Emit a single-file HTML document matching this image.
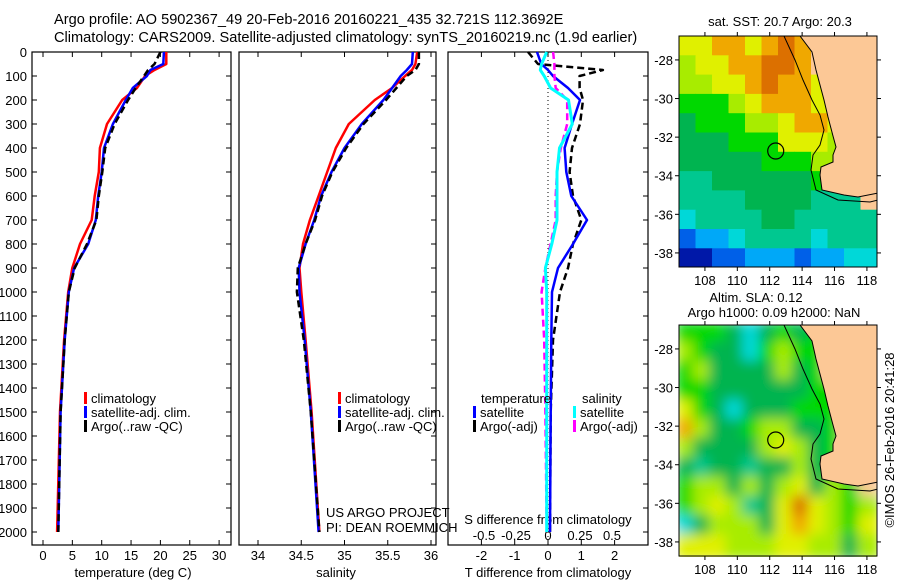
<!DOCTYPE html>
<html><head><meta charset="utf-8"><style>
html,body{margin:0;padding:0;background:#fff;}
svg{display:block;font-family:"Liberation Sans",sans-serif;}
text{fill:#000;}
</style></head><body>
<svg id="c" width="900" height="580" viewBox="0 0 900 580">
<defs><filter id="blur2"><feGaussianBlur stdDeviation="6"/></filter>
<clipPath id="clipm1"><rect x="679" y="36" width="198" height="231"/></clipPath>
<clipPath id="clipm2"><rect x="679" y="325" width="198" height="232"/></clipPath>
</defs>
<text x="54" y="24" font-size="14.6">Argo profile: AO 5902367_49 20-Feb-2016 20160221_435 32.721S 112.3692E</text>
<text x="54" y="42" font-size="14.6">Climatology: CARS2009. Satellite-adjusted climatology: synTS_20160219.nc (1.9d earlier)</text>
<g id="g"></g>
</svg>
<script>
// depth levels (m)
const depths=[0,50,75,100,150,200,300,400,500,600,700,800,900,1000,1200,1500,2000];
// temperature (deg C)
const tempClim=[21.0,21.0,19.0,17.4,16.0,13.5,10.9,9.7,9.5,8.8,8.3,6.3,5.0,4.3,3.6,2.9,2.4];
const tempSat=[20.6,20.5,18.3,17.7,15.3,14.1,11.9,10.4,10.0,9.4,9.0,7.7,5.3,4.4,3.7,3.0,2.6];
const tempArgo=[20.0,19.0,17.9,17.2,15.8,14.5,12.2,10.6,10.1,9.5,9.1,7.5,5.4,4.4,3.7,3.0,2.6];
// salinity
const salClim=[35.84,35.82,35.78,35.7,35.55,35.35,35.05,34.9,34.8,34.7,34.6,34.52,34.48,34.5,34.55,34.62,34.71];
const salSat=[35.79,35.78,35.72,35.65,35.55,35.45,35.2,35.0,34.85,34.73,34.65,34.55,34.47,34.48,34.54,34.61,34.70];
const salArgo=[35.86,35.86,35.82,35.72,35.6,35.48,35.22,35.02,34.86,34.74,34.66,34.55,34.46,34.45,34.53,34.61,34.71];
// differences from climatology
const dTsat=[-0.33,-0.2,0.0,0.15,0.6,0.96,0.72,0.5,0.55,0.7,1.17,0.75,0.3,0.12,0.1,0.08,0.06];
const dTargo=[-0.6,-0.3,1.65,0.95,0.95,1.05,0.96,0.72,0.65,0.75,1.0,0.75,0.6,0.36,0.15,0.08,0.06];
const dSsat=[-0.01,-0.05,-0.06,-0.03,0.02,0.16,0.19,0.09,0.07,0.07,0.07,0.03,-0.02,-0.01,-0.01,-0.01,-0.01];
const dSargo=[0.04,0.05,0.05,0.05,0.06,0.15,0.15,0.1,0.07,0.06,0.06,0.02,-0.02,-0.05,-0.03,-0.02,-0.01];
// tick labels
const depthTicks=[0,100,200,300,400,500,600,700,800,900,1000,1100,1200,1300,1400,1500,1600,1700,1800,1900,2000];
const tempTicks=[0,5,10,15,20,25,30];
const salTicks=[34,34.5,35,35.5,36];
const dTTicks=[-2,-1,0,1,2];
const dSTicks=[-0.5,-0.25,0,0.25,0.5];
const latTicks=[-28,-30,-32,-34,-36,-38];
const lonTicks=[108,110,112,114,116,118];
// map grids (palette codes, rows north->south, 1 deg cells)
const sstGrid=["yyooyoOoLLLL","lyyooOOoLLLL","llyyoOooyLLL","ggglyoooyLLL","GgggllyooylL","GGGgggyyylLL","GGGGGgggllLL","ttGGGGGGgtLL","ttttGGGGtttL","cttttGGttttt","Bbbcttttcttt","NNBBbbbBbbcc"];
const slaGrid=["gggGcGgGgLLL","lgGGcglggLLL","glGGGGlGgLLL","ggGGGGGGggLL","ygGcGGGgggLL","olGGgllGGgLL","lGGGGlylGgLL","GtGGtGGlGgLL","gllGlGlyGlgL","glyltGyOylgl","cGlllGyoylgy","yyylllyyllGl"];
const pal={O:"#dc7000",o:"#f0a800",y:"#e0f000",l:"#a8ec00",g:"#00d800",G:"#00b450",t:"#00c890",c:"#00d8d8",b:"#00a8f8",B:"#0060e8",N:"#0018a8",L:"#fcc896"};

const NS="http://www.w3.org/2000/svg";
const G=document.getElementById('g');
function el(tag,attrs,parent){const e=document.createElementNS(NS,tag);for(const k in attrs)e.setAttribute(k,attrs[k]);(parent||G).appendChild(e);return e;}
function txt(x,y,s,size,anchor,parent){const t=el('text',{x:x,y:y,'font-size':size||13,'text-anchor':anchor||'middle'},parent);t.textContent=s;return t;}

const TOP=52,BOT=545;
const yD=d=>TOP+d*0.24;
const panels=[
 {x0:32,x1:231,name:'temperature-panel'},
 {x0:239,x1:436,name:'salinity-panel'},
 {x0:448,x1:648,name:'difference-panel'}];
const xT=v=>43+5.87*v, xS=v=>258+86.5*(v-34), xdT=v=>548+33.3*v, xdS=v=>548+128*v;

panels.forEach(p=>{
 const r=el('rect',{x:p.x0,y:TOP,width:p.x1-p.x0,height:BOT-TOP,fill:'#fff',stroke:'#000','stroke-width':1.2});
 
 
 depthTicks.forEach(d=>{el('line',{x1:p.x1-5,x2:p.x1,y1:yD(d),y2:yD(d),stroke:'#000'});});
});
depthTicks.forEach(d=>{
 el('line',{x1:32,x2:37,y1:yD(d),y2:yD(d),stroke:'#000'});
 const t=txt(27,yD(d)+5,String(d),13,'end');
 
 
});
function xticks(vals,fx,y){vals.forEach(v=>{const x=fx(v);el('line',{x1:x,x2:x,y1:BOT,y2:BOT-5,stroke:'#000'});el('line',{x1:x,x2:x,y1:TOP,y2:TOP+5,stroke:'#000'});const t=txt(x,y,String(v),13);});}
xticks(tempTicks,xT,560);
xticks(salTicks,xS,560);
xticks(dTTicks,xdT,560);
dSTicks.forEach(v=>{const t=txt(xdS(v),540,String(v),13);});
let t;
t=txt(133,577,'temperature (deg C)',13);
t=txt(336,577,'salinity',13);
t=txt(548,577,'T difference from climatology',13);
t=txt(548,524,'S difference from climatology',13);
t=txt(326,517,'US ARGO PROJECT',13,'start');
t=txt(326,532,'PI: DEAN ROEMMICH',13,'start');
el('line',{x1:548,x2:548,y1:TOP,y2:BOT,stroke:'#000','stroke-dasharray':'1,3'});

function series(vals,fx,color,name,dash,w){
 const pts=vals.map((v,i)=>fx(v).toFixed(1)+','+yD(depths[i]).toFixed(1)).join(' ');
 const a={points:pts,fill:'none',stroke:color,'stroke-width':w||2.5,'stroke-linejoin':'round'};
 if(dash)a['stroke-dasharray']=dash;
 const l=el('polyline',a);
 
 
}
series(tempClim,xT,'#f00','temp-climatology-line');
series(tempSat,xT,'#00f','temp-satellite-line');
series(tempArgo,xT,'#000','temp-argo-line','7,4',2.5);
series(salClim,xS,'#f00','sal-climatology-line');
series(salSat,xS,'#00f','sal-satellite-line');
series(salArgo,xS,'#000','sal-argo-line','7,4',2.5);
series(dTargo,xdT,'#000','dT-argo-line','7,4',2.5);
series(dTsat,xdT,'#00f','dT-satellite-line');
series(dSargo,xdS,'#f0f','dS-argo-line','7,4',2.5);
series(dSsat,xdS,'#0ff','dS-satellite-line',null,3);

function legend(x,y,color,label){
 el('rect',{x:x,y:y-6,width:3,height:12,fill:color});
 const t=txt(x+7,y+5,label,13,'start');
 
 
}
legend(84,398,'#f00','climatology');legend(84,412,'#00f','satellite-adj. clim.');legend(84,426,'#000','Argo(..raw -QC)');
legend(338,398,'#f00','climatology');legend(338,412,'#00f','satellite-adj. clim.');legend(338,426,'#000','Argo(..raw -QC)');
t=txt(481,403,'temperature',13,'start');
t=txt(582,403,'salinity',13,'start');
legend(473,412,'#00f','satellite');legend(473,426,'#000','Argo(-adj)');
legend(573,412,'#0ff','satellite');legend(573,426,'#f0f','Argo(-adj)');

const LON0=106.4,LAT0=-26.76,PX=16.2,PY=19.3;
function drawMap(grid,y0,clip,blur,name){
 const g=el('g',{'clip-path':'url(#'+clip+')'});
 
 
 const inner=el('g',blur?{filter:'url(#blur2)'}:{},g);
 grid.forEach((row,r)=>{for(let c=0;c<row.length;c++){
  el('rect',{x:679+c*16.5-(blur?3:0),y:y0+r*19.3-(blur?3:0),width:16.5+(blur?6:0.5),height:19.3+(blur?6:0.5),fill:pal[row[c]]},inner);
 }});
 const land=[[800,0],[812,16],[816,34],[820,49],[824,64],[828,81],[833,100],[836,111],[833,119],[833,126],[821,131],[820,139],[822,154],[844,159],[858,161],[878,157],[878,0]];
 el('polygon',{points:land.map(p=>p[0]+','+(p[1]+y0)).join(' '),fill:'#fcc896',stroke:'#000','stroke-width':1},g);
 const iso=[[784,0],[795,24],[803,44],[812,64],[820,79],[824,94],[820,109],[813,119],[811,134],[816,154],[838,164],[870,166],[878,164]];
 el('polyline',{points:iso.map(p=>p[0]+','+(p[1]+y0)).join(' '),fill:'none',stroke:'#000','stroke-width':1},g);
 const cx=679+(112.37-LON0)*PX, cy=y0+(LAT0-(-32.72))*PY;
 const m=el('circle',{cx:cx,cy:cy,r:8,fill:'none',stroke:'#000','stroke-width':1.2});
 
 
 el('rect',{x:679,y:y0,width:198,height:231,fill:'none',stroke:'#000','stroke-width':1});
 latTicks.forEach(v=>{const y=y0+(LAT0-v)*PY;el('line',{x1:679,x2:675,y1:y,y2:y,stroke:'#000'});el('line',{x1:877,x2:881,y1:y,y2:y,stroke:'#000'});const t=txt(673,y+5,String(v),13,'end');});
 lonTicks.forEach(v=>{const x=679+(v-LON0)*PX;el('line',{x1:x,x2:x,y1:y0+231,y2:y0+235,stroke:'#000'});el('line',{x1:x,x2:x,y1:y0,y2:y0-4,stroke:'#000'});const t=txt(x,y0+249,String(v),13);});
}
drawMap(sstGrid,36,'clipm1',false,'sst-map');
drawMap(slaGrid,325,'clipm2',true,'sla-map');
t=txt(780,26,'sat. SST: 20.7 Argo: 20.3',13);
t=txt(756,302,'Altim. SLA: 0.12',13);
t=txt(774,317,'Argo h1000: 0.09 h2000: NaN',13);
t=txt(0,0,'©IMOS 26-Feb-2016 20:41:28',13);t.setAttribute('transform','translate(894,440) rotate(-90)');
</script>
</body></html>
